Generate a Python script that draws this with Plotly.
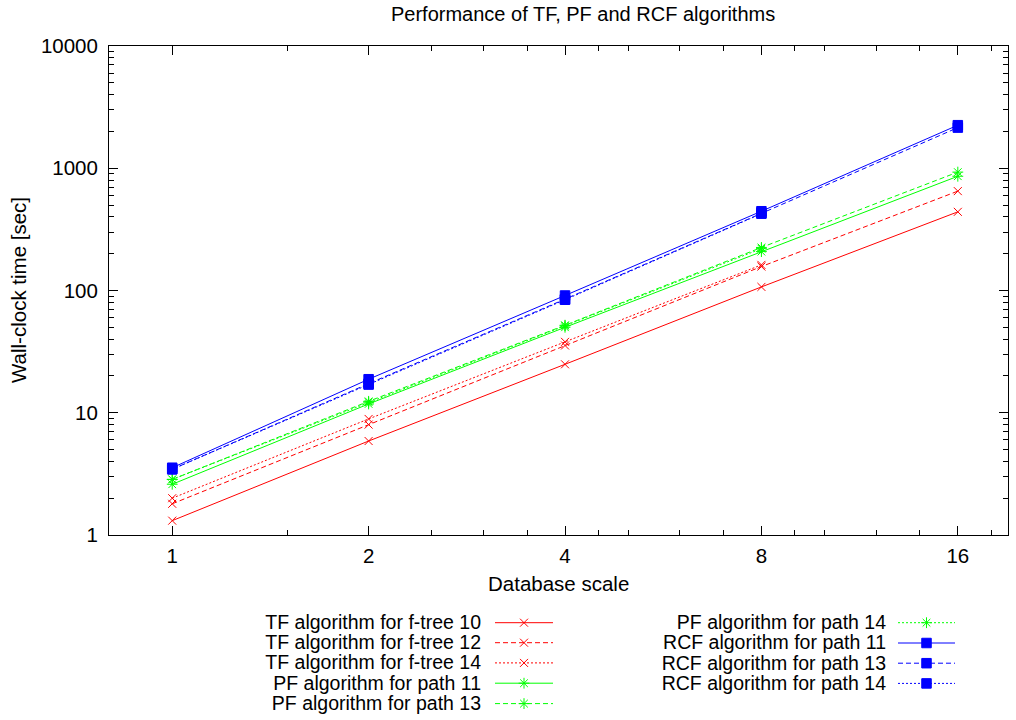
import plotly.graph_objects as go
import math

# ---------------- data ----------------
scale = [1, 2, 4, 8, 16]
tf_ftree10 = [1.31, 5.87, 24.9, 107, 440]
tf_ftree12 = [1.80, 8.0, 35.5, 157, 650]
tf_ftree14 = [2.0, 8.9, 38, 162, None]
pf_path11 = [2.6, 11.8, 50, 208, 860]
pf_path13 = [2.85, 12.4, 52, 225, 930]
pf_path14 = [2.85, 12.2, 51.5, 220, None]
rcf_path11 = [3.55, 18.8, 91, 445, 2250]
rcf_path13 = [3.45, 17.3, 85, 430, 2150]
rcf_path14 = [3.45, 17.0, 84, 425, None]

x_ticks = [1, 2, 4, 8, 16]
x_minor = [1.5, 2.5, 3, 3.5, 4.5, 5, 6, 7, 9, 10, 12, 14, 18]
y_ticks = [1, 10, 100, 1000, 10000]
y_minor = [m * 10 ** d for d in range(4) for m in range(2, 10)]

RED, GREEN, BLUE = "#ff0000", "#00ff00", "#0000ff"
DASH = "5px,3px"
DOT = "2px,2px"

series = [
    ("TF algorithm for f-tree 10", tf_ftree10, RED, "solid", "x-thin-open", 8),
    ("TF algorithm for f-tree 12", tf_ftree12, RED, DASH, "x-thin-open", 8),
    ("TF algorithm for f-tree 14", tf_ftree14, RED, DOT, "x-thin-open", 8),
    ("PF algorithm for path 11", pf_path11, GREEN, "solid", "asterisk-open", 9),
    ("PF algorithm for path 13", pf_path13, GREEN, DASH, "asterisk-open", 9),
    ("PF algorithm for path 14", pf_path14, GREEN, DOT, "asterisk-open", 9),
    ("RCF algorithm for path 11", rcf_path11, BLUE, "solid", "square", 9.5),
    ("RCF algorithm for path 13", rcf_path13, BLUE, DASH, "square", 9.5),
    ("RCF algorithm for path 14", rcf_path14, BLUE, DOT, "square", 9.5),
]

FONT = "Liberation Sans, Arial, sans-serif"
FS = 20.5
FS_LEG = 19.5
FS_TITLE = 20
W, H = 1016, 720
L, R, T = 109, 8, 46
PLOT_BOTTOM = 535
plot_h = H - T
ydom0 = (H - PLOT_BOTTOM) / plot_h

fig = go.Figure()

for name, vals, col, dash, sym, msz in series:
    xs = [s for s, v in zip(scale, vals) if v is not None]
    ys = [v for v in vals if v is not None]
    fig.add_trace(go.Scatter(
        x=xs, y=ys, mode="lines+markers", name=name, showlegend=False,
        line=dict(color=col, width=1, dash=dash),
        marker=dict(symbol=sym, size=msz, color=col, line=dict(color=col, width=1)),
        xaxis="x", yaxis="y",
    ))

# ---------------- legend (gnuplot style: text then sample) ----------------
legend_slots = [
    (481, 495, 553, 622.7), (481, 495, 553, 642.7), (481, 495, 553, 662.9),
    (481, 495, 553, 683.2), (481, 495, 553, 703.6),
    (886, 898, 955, 622.7), (886, 898, 955, 643.0), (886, 898, 955, 663.2),
    (886, 898, 955, 683.4),
]
TEXT_DY = 1.5
y2_top = H - 0.2 * plot_h
for (name, vals, col, dash, sym, msz), (tx, x0, x1, yy) in zip(series, legend_slots):
    fig.add_trace(go.Scatter(
        x=[x0, x1], y=[yy, yy], mode="lines", showlegend=False, hoverinfo="skip",
        line=dict(color=col, width=1, dash=dash), xaxis="x2", yaxis="y2"))
    fig.add_trace(go.Scatter(
        x=[(x0 + x1) / 2], y=[yy], mode="markers", showlegend=False, hoverinfo="skip",
        marker=dict(symbol=sym, size=msz, color=col, line=dict(color=col, width=1)),
        xaxis="x2", yaxis="y2"))
    fig.add_trace(go.Scatter(
        x=[tx], y=[yy + TEXT_DY], mode="text", text=[name], textposition="middle left",
        showlegend=False, hoverinfo="skip", cliponaxis=False,
        textfont=dict(family=FONT, size=FS_LEG, color="black"),
        xaxis="x2", yaxis="y2"))

def px_x(p):
    return (p - L) / (W - L - R)

def px_y(p):
    return (H - p) / plot_h

annotations = [
    dict(text="Performance of TF, PF and RCF algorithms", x=px_x(583), y=px_y(14),
         xref="paper", yref="paper", xanchor="center", yanchor="middle", showarrow=False,
         font=dict(family=FONT, size=FS_TITLE, color="black")),
    dict(text="Database scale", x=px_x(558), y=px_y(583),
         xref="paper", yref="paper", xanchor="center", yanchor="middle", showarrow=False,
         font=dict(family=FONT, size=FS, color="black")),
    dict(text="Wall-clock time [sec]", x=px_x(18), y=px_y(290), textangle=-90,
         xref="paper", yref="paper", xanchor="center", yanchor="middle", showarrow=False,
         font=dict(family=FONT, size=FS, color="black")),
]

axis_common = dict(
    type="log", showgrid=False, zeroline=False, showline=True, linecolor="black",
    linewidth=1, mirror="allticks", ticks="inside", ticklen=9, tickwidth=1,
    tickcolor="black", tickfont=dict(family=FONT, size=FS, color="black"),
    tickmode="array", automargin=False,
)

fig.update_layout(
    width=W, height=H,
    margin=dict(l=L, r=R, t=T, b=0, pad=0, autoexpand=False),
    paper_bgcolor="white", plot_bgcolor="white",
    showlegend=False,
    xaxis=dict(**axis_common, domain=[0, 1], anchor="y",
               range=[math.log10(0.8), math.log10(19.1)],
               tickvals=x_ticks, ticktext=[str(v) for v in x_ticks],
               ticklabelstandoff=2,
               minor=dict(tickmode="array", tickvals=x_minor, ticks="inside",
                          ticklen=5, tickcolor="black", tickwidth=1, showgrid=False)),
    yaxis=dict(**axis_common, domain=[ydom0, 1], anchor="x",
               range=[0, 4],
               tickvals=y_ticks, ticktext=[str(v) for v in y_ticks],
               ticklabelstandoff=6,
               minor=dict(tickmode="array", tickvals=y_minor, ticks="inside",
                          ticklen=5, tickcolor="black", tickwidth=1, showgrid=False)),
    xaxis2=dict(domain=[0, 1], anchor="y2", range=[L, W - R], visible=False,
                fixedrange=True, automargin=False),
    yaxis2=dict(domain=[0, 0.2], anchor="x2", range=[H, y2_top], visible=False,
                fixedrange=True, automargin=False),
    annotations=annotations,
)

fig.write_html("out.html")
